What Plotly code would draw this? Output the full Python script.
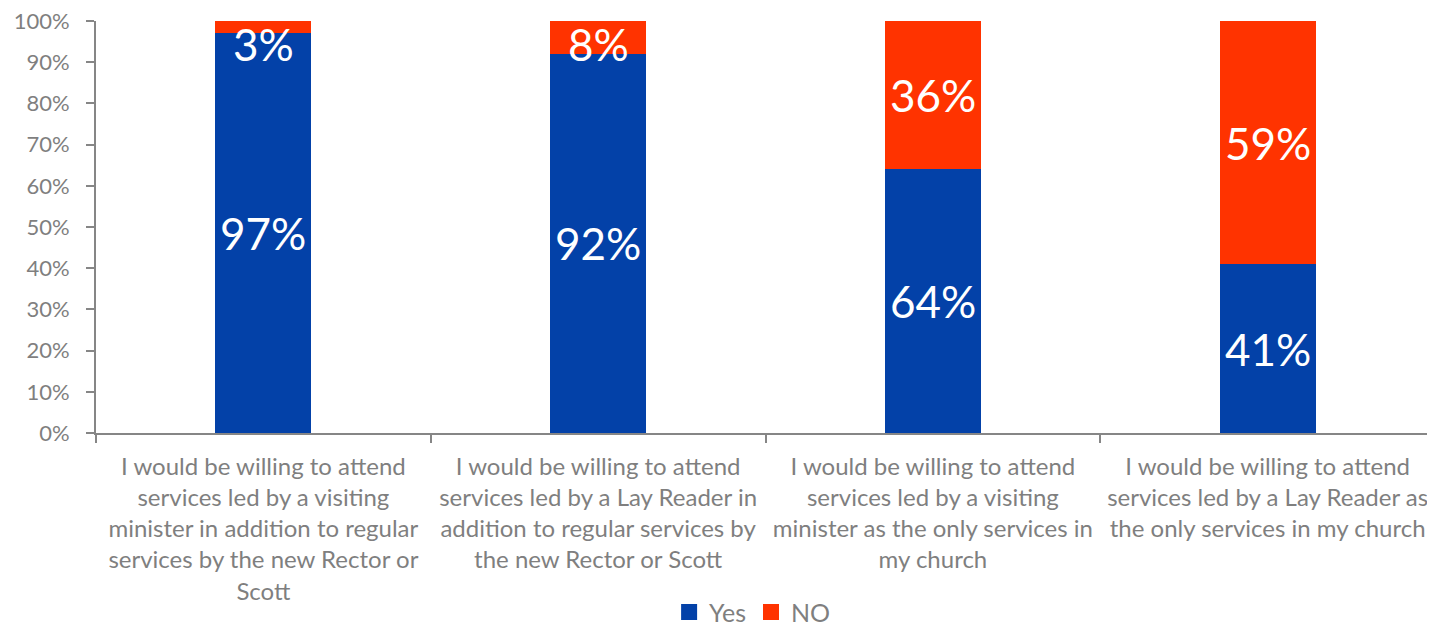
import plotly.graph_objects as go

categories = [
    "I would be willing to attend<br>services led by a visiting<br>minister in addition to regular<br>services by the new Rector or<br>Scott",
    "I would be willing to attend<br>services led by a Lay Reader in<br>addition to regular services by<br>the new Rector or Scott",
    "I would be willing to attend<br>services led by a visiting<br>minister as the only services in<br>my church",
    "I would be willing to attend<br>services led by a Lay Reader as<br>the only services in my church",
]
yes_vals = [97, 92, 64, 41]
no_vals = [3, 8, 36, 59]
y_ticks = list(range(0, 101, 10))

BLUE = "#0341A8"
RED = "#FF3300"
GRAY = "#7F7F7F"
FONT = "Lato, Open Sans, sans-serif"

fig = go.Figure()
fig.add_trace(go.Bar(x=categories, y=yes_vals, name="Yes", marker_color=BLUE,
                     marker_line_width=0, hoverinfo="skip", showlegend=False))
fig.add_trace(go.Bar(x=categories, y=no_vals, name="NO", marker_color=RED,
                     marker_line_width=0, hoverinfo="skip", showlegend=False))
# legend entries with larger square swatches
for name, col in [("Yes", BLUE), ("NO", RED)]:
    fig.add_trace(go.Scatter(x=[None], y=[None], mode="markers", name=name,
                             marker=dict(symbol="square", size=16, color=col),
                             showlegend=True, hoverinfo="skip"))

annotations = []
for c, y, n in zip(categories, yes_vals, no_vals):
    annotations.append(dict(x=c, y=y / 2, text=f"{y}%", showarrow=False,
                            font=dict(color="white", size=44, family=FONT)))
    yc = min(y + n / 2, 94.5)
    annotations.append(dict(x=c, y=yc, text=f"{n}%", showarrow=False,
                            font=dict(color="white", size=44, family=FONT)))

fig.update_layout(
    barmode="stack",
    bargap=0.713,
    width=1427, height=619,
    margin=dict(l=88, r=0, t=13, b=194, autoexpand=False),
    plot_bgcolor="white", paper_bgcolor="white",
    font=dict(family=FONT, color=GRAY),
    annotations=annotations,
    showlegend=True,
    legend=dict(orientation="h", x=0.49, xanchor="center", y=-0.435, yanchor="middle",
                font=dict(size=25, color=GRAY, family=FONT), traceorder="normal",
                itemwidth=30, tracegroupgap=0),
    xaxis=dict(showline=True, linecolor="#868686", linewidth=2, ticks="outside",
               tickson="boundaries", ticklen=8, tickcolor="#868686", tickwidth=2,
               tickfont=dict(size=24, color=GRAY, family=FONT), showgrid=False,
               range=[-0.5, 3.5], automargin=False, ticklabelstandoff=11, tickangle=0,
               ticklabeloverflow="allow"),
    yaxis=dict(range=[0, 100], tickvals=y_ticks, ticktext=[f"{v}%" for v in y_ticks],
               showline=True, linecolor="#868686", linewidth=2, ticks="outside",
               ticklen=8, tickcolor="#868686", tickwidth=2, showgrid=False,
               zeroline=False, tickfont=dict(size=22, color=GRAY, family=FONT),
               automargin=False, ticklabelstandoff=12, ticklabeloverflow="allow"),
)

fig.write_html("out.html")
